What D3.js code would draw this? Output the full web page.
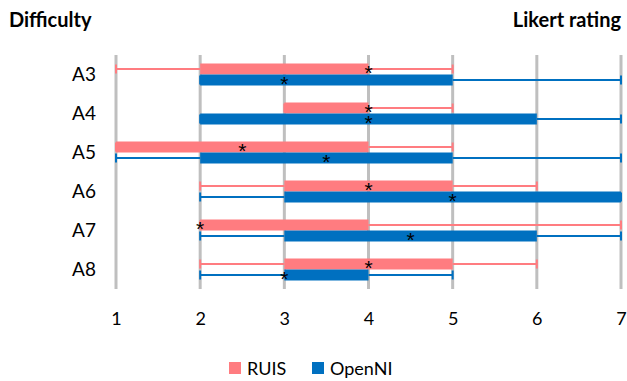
<!DOCTYPE html>
<html>
<head>
<meta charset="utf-8">
<script src="https://cdn.jsdelivr.net/npm/d3@7"></script>
<style>
  html, body { margin: 0; padding: 0; background: #fff; }
  svg { display: block; font-family: Lato, "Liberation Sans", sans-serif; }
</style>
</head>
<body>
<svg id="chart" width="627" height="381"></svg>
<script>
// Questions (rows), top to bottom
const categories = ["A3", "A4", "A5", "A6", "A7", "A8"];
const seriesNames = ["RUIS", "OpenNI"];
const seriesColors = ["#ff7c80", "#0070c0"];

// Likert summaries per question: min, Q1, median, Q3, max
const ruisMin    = [1, 3, 1, 2, 2, 2];
const ruisQ1     = [2, 3, 1, 3, 2, 3];
const ruisMedian = [4, 4, 2.5, 4, 2, 4];
const ruisQ3     = [4, 4, 4, 5, 4, 5];
const ruisMax    = [5, 5, 5, 6, 7, 6];

const openniMin    = [2, 2, 1, 2, 2, 2];
const openniQ1     = [2, 2, 2, 3, 3, 3];
const openniMedian = [3, 4, 3.5, 5, 4.5, 3];
const openniQ3     = [5, 6, 5, 7, 6, 4];
const openniMax    = [7, 7, 7, 7, 7, 5];

const xTicks = [1, 2, 3, 4, 5, 6, 7];

const series = [
  { name: seriesNames[0], color: seriesColors[0], min: ruisMin, q1: ruisQ1, med: ruisMedian, q3: ruisQ3, max: ruisMax },
  { name: seriesNames[1], color: seriesColors[1], min: openniMin, q1: openniQ1, med: openniMedian, q3: openniQ3, max: openniMax }
];

const svg = d3.select("#chart");

const x = d3.scaleLinear().domain([1, 7]).range([116, 621]);
const y = d3.scaleBand().domain(categories).range([55, 289]).padding(0);
const sub = d3.scaleBand().domain(seriesNames).range([-11, 11]);

// vertical gridlines
svg.append("g")
  .selectAll("line")
  .data(xTicks)
  .join("line")
  .attr("x1", d => x(d)).attr("x2", d => x(d))
  .attr("y1", 55).attr("y2", 289)
  .attr("stroke", "#bfbfbf")
  .attr("stroke-width", 3);

// x axis labels
const xAxis = d3.axisBottom(x).tickValues(xTicks).tickFormat(d3.format("d")).tickSize(0).tickPadding(0);
svg.append("g")
  .attr("transform", "translate(0,312)")
  .call(xAxis)
  .call(g => g.select(".domain").remove())
  .call(g => g.selectAll("text")
    .attr("font-family", "Lato, 'Liberation Sans', sans-serif")
    .attr("font-size", 18)
    .attr("fill", "#000"));

// y axis labels
const yAxis = d3.axisLeft(y).tickSize(0).tickPadding(0);
svg.append("g")
  .attr("transform", "translate(96,0)")
  .call(yAxis)
  .call(g => g.select(".domain").remove())
  .call(g => g.selectAll("text")
    .attr("font-family", "Lato, 'Liberation Sans', sans-serif")
    .attr("font-size", 19)
    .attr("dy", "0.36em")
    .attr("fill", "#000"));

// boxes, whiskers and medians
series.forEach(s => {
  const g = svg.append("g");
  const rows = categories.map((c, i) => ({
    c, min: s.min[i], q1: s.q1[i], med: s.med[i], q3: s.q3[i], max: s.max[i],
    top: y(c) + y.bandwidth() / 2 + sub(s.name)
  }));
  const h = sub.bandwidth();

  // whisker lines
  g.selectAll("line.wl")
    .data(rows)
    .join("line")
    .attr("class", "wl")
    .attr("x1", d => x(d.min)).attr("x2", d => x(d.q1))
    .attr("y1", d => d.top + h / 2).attr("y2", d => d.top + h / 2)
    .attr("stroke", s.color).attr("stroke-width", 2);
  g.selectAll("line.wr")
    .data(rows)
    .join("line")
    .attr("class", "wr")
    .attr("x1", d => x(d.q3)).attr("x2", d => x(d.max))
    .attr("y1", d => d.top + h / 2).attr("y2", d => d.top + h / 2)
    .attr("stroke", s.color).attr("stroke-width", 2);

  // whisker caps
  const caps = rows.flatMap(d => [{ v: d.min, top: d.top }, { v: d.max, top: d.top }]);
  g.selectAll("line.cap")
    .data(caps)
    .join("line")
    .attr("class", "cap")
    .attr("x1", d => x(d.v)).attr("x2", d => x(d.v))
    .attr("y1", d => d.top + 1).attr("y2", d => d.top + h - 1)
    .attr("stroke", s.color).attr("stroke-width", 2);

  // interquartile box
  g.selectAll("rect")
    .data(rows)
    .join("rect")
    .attr("x", d => x(d.q1))
    .attr("width", d => x(d.q3) - x(d.q1))
    .attr("y", d => d.top)
    .attr("height", h)
    .attr("fill", s.color);

  // median marker
  g.selectAll("text")
    .data(rows)
    .join("text")
    .attr("x", d => x(d.med))
    .attr("y", d => d.top + h / 2 + 11)
    .attr("text-anchor", "middle")
    .attr("font-family", "'Liberation Sans', sans-serif")
    .attr("font-size", 21)
    .attr("fill", "#000")
    .text("*");
});

// titles
svg.append("text")
  .attr("x", 9).attr("y", 27)
  .attr("font-size", 20).attr("font-weight", "bold")
  .attr("fill", "#000")
  .text("Difficulty");
svg.append("text")
  .attr("x", 621).attr("y", 27)
  .attr("text-anchor", "end")
  .attr("font-size", 20).attr("font-weight", "bold")
  .attr("fill", "#000")
  .text("Likert rating");

// legend
const legend = svg.append("g").attr("transform", "translate(229,362)");
const legendX = [0, 83];
series.forEach((s, i) => {
  const lg = legend.append("g").attr("transform", `translate(${legendX[i]},0)`);
  lg.append("rect").attr("width", 12).attr("height", 12).attr("fill", s.color);
  lg.append("text")
    .attr("x", 18).attr("y", 12.5)
    .attr("font-size", 18).attr("fill", "#000")
    .text(s.name);
});
</script>
</body>
</html>
